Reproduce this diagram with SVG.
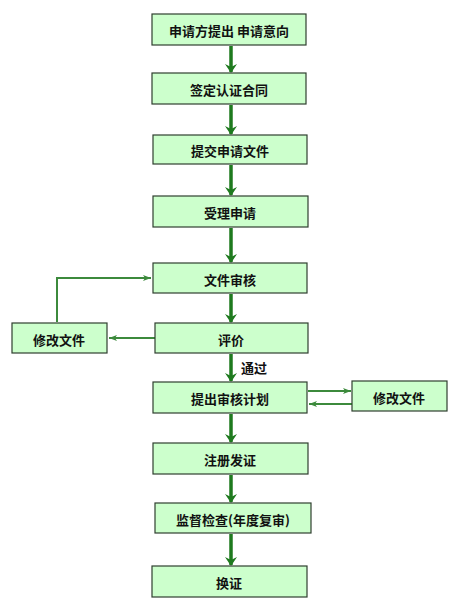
<svg xmlns="http://www.w3.org/2000/svg" width="454" height="605" viewBox="0 0 454 605">
<style>
.box{fill:#ccffcc;stroke:#2f3f2f;stroke-width:1.2}
.t{font-family:"Noto Sans CJK SC","Liberation Sans",sans-serif;font-size:13px;font-weight:bold;fill:#111;text-anchor:middle;dominant-baseline:central}
.v{stroke:#1e7a1e;stroke-width:3.5;fill:none}
.thin{stroke:#3c8a3c;stroke-width:2;fill:none}
</style>
<defs>
<marker id="big" markerWidth="9" markerHeight="12" refX="8" refY="6" orient="auto" markerUnits="userSpaceOnUse" viewBox="0 0 9 12">
<path d="M0,0 L9,6 L0,12 L3,6 Z" fill="#1e7a1e"/>
</marker>
<marker id="small" markerWidth="8" markerHeight="6" refX="8" refY="3" orient="auto" markerUnits="userSpaceOnUse" viewBox="0 0 8 6">
<path d="M0,0 L8,3 L0,6 L2,3 Z" fill="#3c8a3c"/>
</marker>
</defs>
<rect width="454" height="605" fill="#ffffff"/>
<g id="connectors">
<line class="v" x1="231" y1="46" x2="231" y2="72" marker-end="url(#big)"/>
<line class="v" x1="231" y1="105" x2="231" y2="134" marker-end="url(#big)"/>
<line class="v" x1="231" y1="165" x2="231" y2="195" marker-end="url(#big)"/>
<line class="v" x1="231" y1="228" x2="231" y2="262" marker-end="url(#big)"/>
<line class="v" x1="231" y1="294" x2="231" y2="322" marker-end="url(#big)"/>
<line class="v" x1="231" y1="354" x2="231" y2="381" marker-end="url(#big)"/>
<line class="v" x1="231" y1="414" x2="231" y2="442" marker-end="url(#big)"/>
<line class="v" x1="231" y1="475" x2="231" y2="502" marker-end="url(#big)"/>
<line class="v" x1="231" y1="534" x2="231" y2="565" marker-end="url(#big)"/>
<path class="thin" d="M57,322 L57,278 L151,278" marker-end="url(#small)"/>
<line class="thin" x1="155" y1="338" x2="109" y2="338" marker-end="url(#small)"/>
<line class="thin" x1="308" y1="391" x2="351" y2="391" marker-end="url(#small)"/>
<line class="thin" x1="352" y1="404" x2="309" y2="404" marker-end="url(#small)"/>
</g>
<g id="n1"><rect class="box" x="152" y="14" width="154" height="31"/><text class="t" x="229" y="30">申请方提出 申请意向</text></g>
<g id="n2"><rect class="box" x="152" y="73" width="154" height="31"/><text class="t" x="229" y="89">签定认证合同</text></g>
<g id="n3"><rect class="box" x="153" y="135" width="154" height="29"/><text class="t" x="230" y="150">提交申请文件</text></g>
<g id="n4"><rect class="box" x="153" y="196" width="155" height="31"/><text class="t" x="230" y="212">受理申请</text></g>
<g id="n5"><rect class="box" x="153" y="263" width="154" height="30"/><text class="t" x="230" y="279">文件审核</text></g>
<g id="n6"><rect class="box" x="155" y="323" width="153" height="30"/><text class="t" x="231" y="339">评价</text></g>
<g id="n7"><rect class="box" x="12" y="323" width="95" height="30"/><text class="t" x="59" y="339">修改文件</text></g>
<g id="lbl"><text class="t" x="254" y="367">通过</text></g>
<g id="n8"><rect class="box" x="153" y="382" width="154" height="31"/><text class="t" x="230" y="398">提出审核计划</text></g>
<g id="n9"><rect class="box" x="352" y="381" width="95" height="30"/><text class="t" x="399" y="397">修改文件</text></g>
<g id="n10"><rect class="box" x="153" y="443" width="155" height="31"/><text class="t" x="230" y="459">注册发证</text></g>
<g id="n11"><rect class="box" x="155" y="503" width="156" height="30"/><text class="t" x="233" y="519">监督检查(年度复审)</text></g>
<g id="n12"><rect class="box" x="152" y="566" width="155" height="31"/><text class="t" x="229" y="582">换证</text></g>
</svg>
